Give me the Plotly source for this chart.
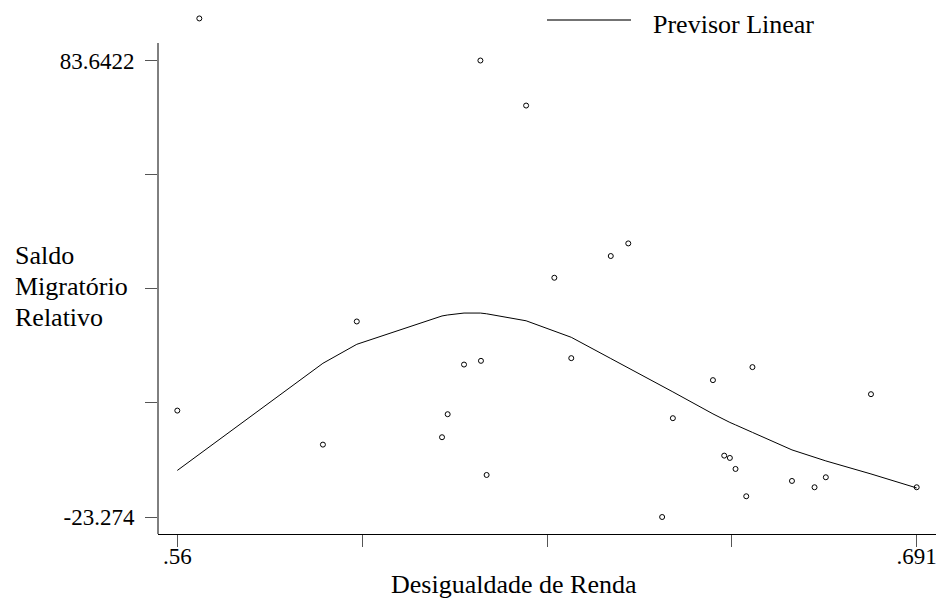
import plotly.graph_objects as go

# Data (sorted by income inequality)
desigualdade = [0.5600, 0.5639, 0.5858, 0.5918, 0.6069, 0.6079, 0.6108, 0.6137, 0.6138,
                0.6148, 0.6218, 0.6268, 0.6298, 0.6368, 0.6399, 0.6459, 0.6478, 0.6549,
                0.6569, 0.6579, 0.6589, 0.6608, 0.6619, 0.6689, 0.6729, 0.6749, 0.6829, 0.6910]
saldo = [1.65, 93.49, -6.32, 22.52, -4.59, 0.80, 12.43, 83.6422, 13.30,
         -13.43, 73.09, 32.76, 13.93, 37.85, 40.80, -23.274, -0.13, 8.78,
         -8.90, -9.44, -12.02, -18.42, 11.83, -14.83, -16.31, -13.97, 5.49, -16.31]
previsor = [-12.37, -8.57, 12.72, 17.17, 23.81, 24.04, 24.49, 24.49, 24.49,
            24.32, 22.68, 20.27, 18.81, 13.84, 11.66, 7.44, 6.03, 0.88,
            -0.53, -1.12, -1.70, -2.88, -3.46, -7.56, -9.37, -10.14, -13.19, -16.47]

x_tickvals = [0.56, 0.59275, 0.6255, 0.65825, 0.691]
x_ticktext = [".56", "", "", "", ".691"]
y_tickvals = [-23.274, 3.455, 30.184, 56.913, 83.6422]
y_ticktext = ["-23.274", "", "", "", "83.6422"]
y_title_lines = ["Saldo", "Migratório", "Relativo"]

FONT = "Liberation Serif"

fig = go.Figure()
fig.add_trace(go.Scatter(
    x=desigualdade, y=saldo, mode="markers",
    marker=dict(symbol="circle-open", size=5, color="black", line=dict(width=1, color="black")),
    cliponaxis=False, showlegend=False))
fig.add_trace(go.Scatter(
    x=desigualdade, y=previsor, mode="lines",
    line=dict(color="black", width=1), cliponaxis=False, showlegend=False,
    name="Previsor Linear"))

W, H = 936, 603
L, R, T, B = 158, 0, 10, 69
pw, ph = W - L - R, H - T - B

def px(xp):
    return (xp - L) / pw

def py(yp):
    return (H - B - yp) / ph

annotations = [
    dict(text="Previsor Linear", xref="paper", yref="paper",
         x=px(651), y=py(25), xanchor="left", yanchor="middle",
         showarrow=False, font=dict(family=FONT, size=26, color="black")),
    dict(text="Desigualdade de Renda", xref="paper", yref="paper",
         x=px(513.5), y=py(584), xanchor="center", yanchor="middle",
         showarrow=False, font=dict(family=FONT, size=26, color="black")),
]
for i, line in enumerate(y_title_lines):
    annotations.append(dict(text=line, xref="paper", yref="paper",
                            x=px(13), y=py(255 + 31 * i), xanchor="left", yanchor="middle",
                            showarrow=False, font=dict(family=FONT, size=26, color="black")))

fig.update_layout(
    width=W, height=H,
    margin=dict(l=L, r=R, t=T, b=B),
    paper_bgcolor="white", plot_bgcolor="white",
    font=dict(family=FONT, color="black", size=23),
    xaxis=dict(range=[0.55658, 0.69442], showgrid=False, zeroline=False,
               showline=True, linecolor="black", linewidth=1,
               ticks="outside", ticklen=12, tickcolor="#555", tickwidth=1,
               tickvals=x_tickvals, ticktext=x_ticktext,
               ticklabelstandoff=-11, ticklabeloverflow="allow",
               tickfont=dict(family=FONT, size=23, color="black")),
    yaxis=dict(range=[-27.256, 95.469], showgrid=False, zeroline=False,
               showline=False,
               ticks="outside", ticklen=12, tickcolor="#555", tickwidth=1,
               tickvals=y_tickvals, ticktext=y_ticktext,
               ticklabelstandoff=6, ticklabeloverflow="allow",
               tickfont=dict(family=FONT, size=23, color="black")),
    shapes=[
        dict(type="line", xref="paper", yref="paper",
             x0=0, x1=0, y0=0, y1=py(43),
             line=dict(color="black", width=1)),
        dict(type="line", xref="paper", yref="paper",
             x0=px(547), x1=px(631), y0=py(20), y1=py(20),
             line=dict(color="#444", width=1.5)),
    ],
    annotations=annotations,
)

fig.write_html("out.html",
               config={"displayModeBar": False},
               post_script="document.body.style.margin='0';document.body.style.overflow='hidden';")
